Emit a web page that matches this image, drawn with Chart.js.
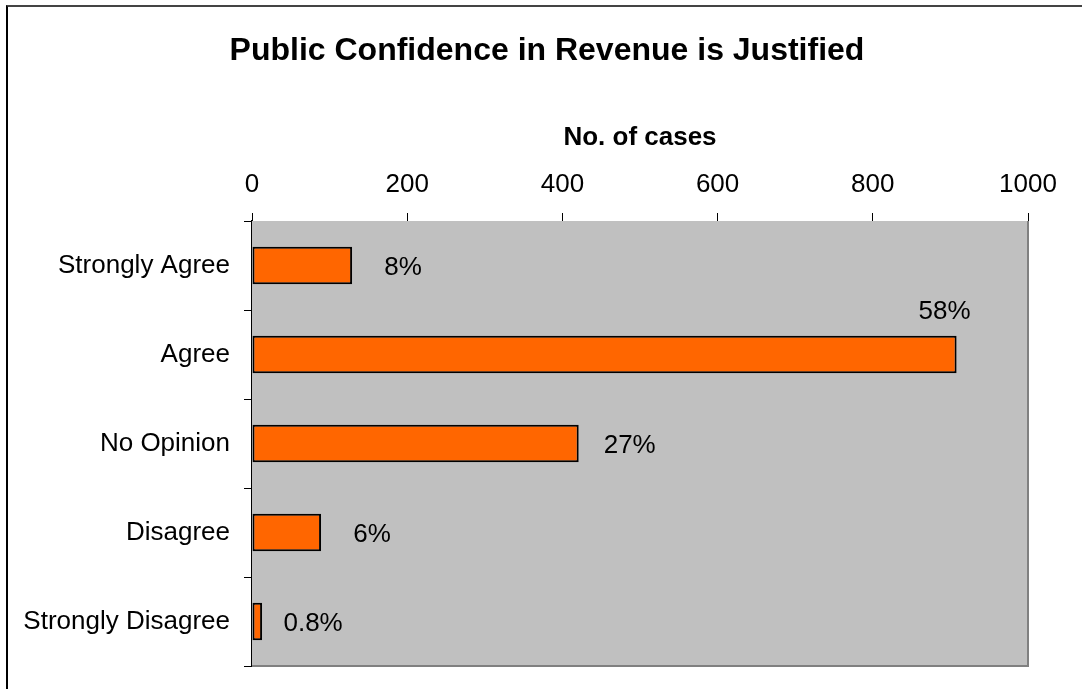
<!DOCTYPE html>
<html>
<head>
<meta charset="utf-8">
<script src="https://cdn.jsdelivr.net/npm/chart.js@4.4.1/dist/chart.umd.min.js"></script>
<style>
  html, body { margin: 0; padding: 0; background: #fff; }
  #wrap { position: relative; width: 1082px; height: 689px; }
  #frame {
    position: absolute; left: 6px; top: 5px; right: -10px; bottom: -10px;
    border-left: 2px solid #000; border-top: 2px solid #444;
    pointer-events: none;
  }
</style>
</head>
<body>
<div id="wrap">
  <canvas id="chart" width="1082" height="689"></canvas>
  <div id="frame"></div>
</div>
<script>
// data
const categories = ["Strongly Agree", "Agree", "No Opinion", "Disagree", "Strongly Disagree"];
const cases = [129, 908, 421, 89, 13];
const shares = ["8%", "58%", "27%", "6%", "0.8%"];
const xTicks = [0, 200, 400, 600, 800, 1000];
const chartTitle = "Public Confidence in Revenue is Justified";

const FONT = "'Liberation Sans', Arial, sans-serif";

// grey plot area + grey right/bottom edge
const plotBox = {
  id: "plotBox",
  beforeDatasetsDraw(chart) {
    const { ctx, chartArea: a } = chart;
    ctx.save();
    ctx.fillStyle = "#c0c0c0";
    ctx.fillRect(a.left, a.top, a.right - a.left, a.bottom - a.top);
    ctx.strokeStyle = "#808080";
    ctx.lineWidth = 2;
    ctx.beginPath();
    ctx.moveTo(a.right, a.top);
    ctx.lineTo(a.right, a.bottom);
    ctx.lineTo(a.left, a.bottom);
    ctx.stroke();
    ctx.restore();
  },
};

// title centred on the whole chart box, not on the padded area
const centredTitle = {
  id: "centredTitle",
  afterDraw(chart) {
    const { ctx } = chart;
    ctx.save();
    ctx.font = "bold 32px " + FONT;
    ctx.fillStyle = "#000";
    ctx.textAlign = "center";
    ctx.textBaseline = "middle";
    ctx.fillText(chartTitle, 547, 51);
    ctx.restore();
  },
};

// percentage labels next to the bars
const shareLabels = {
  id: "shareLabels",
  afterDatasetsDraw(chart) {
    const { ctx } = chart;
    const bars = chart.getDatasetMeta(0).data;
    ctx.save();
    ctx.font = "26px " + FONT;
    ctx.fillStyle = "#000";
    ctx.textAlign = "center";
    ctx.textBaseline = "middle";
    bars.forEach((bar, i) => {
      if (i === 1) {
        // Excel put this one above the bar end
        ctx.fillText(shares[i], bar.x - 12, bar.y - 43);
      } else {
        ctx.fillText(shares[i], bar.x + 51, bar.y + 2);
      }
    });
    ctx.restore();
  },
};

const ctx = document.getElementById("chart").getContext("2d");
const chart = new Chart(ctx, {
  type: "bar",
  data: {
    labels: categories,
    datasets: [
      {
        data: cases,
        backgroundColor: "#ff6600",
        borderColor: "#000",
        borderWidth: 2,
        borderSkipped: false,
        categoryPercentage: 1,
        barPercentage: 0.42,
      },
    ],
  },
  options: {
    indexAxis: "y",
    responsive: false,
    animation: false,
    layout: {
      padding: { left: 0, right: 54, top: 0, bottom: 23 },
    },
    plugins: {
      legend: { display: false },
      tooltip: { enabled: false },
      title: { display: false },
    },
    scales: {
      x: {
        position: "top",
        min: 0,
        max: 1000,
        afterBuildTicks(scale) {
          scale.ticks = xTicks.map((v) => ({ value: v }));
        },
        afterFit(scale) {
          scale.height = 221;
          scale.paddingLeft = 0;
          scale.paddingRight = 0;
        },
        title: {
          display: true,
          text: "No. of cases",
          color: "#000",
          font: { family: FONT, size: 26, weight: "bold" },
          padding: { top: 122, bottom: 0 },
        },
        ticks: {
          color: "#000",
          font: { family: FONT, size: 26 },
          padding: 13,
          maxRotation: 0,
          callback: (v) => String(v),
        },
        grid: {
          drawOnChartArea: false,
          drawTicks: true,
          tickLength: 8,
          color: "#000",
        },
        border: { color: "#000", width: 1 },
      },
      y: {
        afterFit(scale) {
          scale.width = 252;
          scale.paddingTop = 0;
          scale.paddingBottom = 0;
        },
        ticks: {
          color: "#000",
          font: { family: FONT, size: 26 },
          padding: 14,
        },
        grid: {
          offset: true,
          drawOnChartArea: false,
          tickLength: 8,
          color: "#000",
        },
        border: { color: "#000", width: 2 },
      },
    },
  },
  plugins: [plotBox, shareLabels, centredTitle],
});
</script>
</body>
</html>
